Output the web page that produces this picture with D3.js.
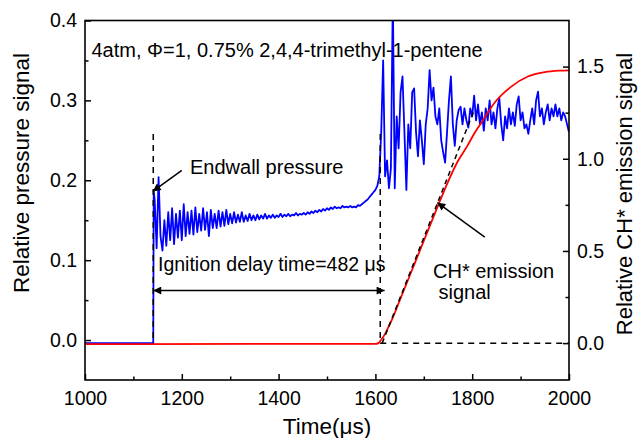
<!DOCTYPE html>
<html><head><meta charset="utf-8">
<script src="https://cdn.jsdelivr.net/npm/d3@7"></script>
<style>
body{margin:0;background:#fff}
text{font-family:"Liberation Sans",Arial,sans-serif;fill:#000}
</style>
</head><body>
<svg id="chart" width="638" height="438"></svg>
<script>
// ---------- data ----------
const xTicks = [1000, 1200, 1400, 1600, 1800, 2000];
const xMinorTicks = [1100, 1300, 1500, 1700, 1900];
const leftTicks = [0.0, 0.1, 0.2, 0.3, 0.4];
const leftMinorTicks = [0.05, 0.15, 0.25, 0.35];
const rightTicks = [0.0, 0.5, 1.0, 1.5];
const rightMinorTicks = [0.25, 0.75, 1.25];

// pressure (left axis): baseline and the jump
const pressureBaseTime = [1000, 1141, 1142];
const pressureBaseValue = [-0.004, -0.004, 0.186];
// pressure after the jump, sampled every 4 us from 1144 to 2000
const pressureStart = 1144, pressureStep = 4;
const pressureValues = [
  0.175,0.115,0.204,0.13,0.112,0.15,0.118,0.16,0.125,0.165,
  0.12,0.158,0.128,0.162,0.125,0.17,0.13,0.16,0.133,0.162,
  0.132,0.166,0.135,0.158,0.137,0.165,0.138,0.16,0.13,0.163,
  0.14,0.158,0.14,0.162,0.142,0.16,0.143,0.163,0.145,0.158,
  0.146,0.16,0.147,0.157,0.148,0.16,0.148,0.156,0.149,0.158,
  0.15,0.156,0.15,0.157,0.151,0.156,0.152,0.158,0.152,0.156,
  0.153,0.157,0.153,0.156,0.154,0.158,0.154,0.157,0.155,0.158,
  0.155,0.157,0.156,0.159,0.156,0.158,0.157,0.159,0.157,0.16,
  0.158,0.161,0.159,0.162,0.16,0.163,0.161,0.164,0.162,0.165,
  0.163,0.166,0.164,0.167,0.165,0.166,0.165,0.168,0.166,0.167,
  0.166,0.168,0.166,0.167,0.166,0.169,0.168,0.17,0.172,0.174,
  0.176,0.179,0.182,0.185,0.188,0.193,0.205,0.26,0.35,0.205,
  0.225,0.19,0.215,0.43,0.19,0.28,0.24,0.31,0.33,0.26,
  0.188,0.27,0.24,0.31,0.315,0.26,0.23,0.275,0.25,0.22,
  0.27,0.29,0.338,0.30,0.316,0.28,0.27,0.29,0.25,0.235,
  0.222,0.26,0.30,0.33,0.27,0.243,0.275,0.288,0.292,0.27,
  0.29,0.275,0.266,0.29,0.28,0.306,0.275,0.295,0.27,0.285,
  0.262,0.29,0.275,0.3,0.27,0.285,0.265,0.29,0.303,0.27,
  0.25,0.28,0.265,0.29,0.27,0.285,0.268,0.295,0.305,0.275,
  0.285,0.265,0.27,0.258,0.275,0.29,0.27,0.3,0.311,0.28,
  0.29,0.27,0.285,0.295,0.275,0.29,0.28,0.295,0.28,0.29,
  0.275,0.285,0.28,0.27,0.26
];

// CH* emission (right axis)
const chTime  = [1000, 1600, 1606, 1612, 1620, 1627, 1634, 1650, 1670, 1690, 1710, 1730, 1750, 1770, 1790, 1805, 1820, 1845, 1880, 1915, 1950, 1980, 2000];
const chValue = [-0.005, -0.004, 0.0, 0.018, 0.05, 0.088, 0.126, 0.23, 0.36, 0.49, 0.62, 0.75, 0.875, 0.985, 1.07, 1.14, 1.2, 1.3, 1.39, 1.446, 1.47, 1.478, 1.48];

// annotation geometry in data units
const tangentTime = [1614, 1805];
const tangentValue = [0.0, 1.27];          // right axis
const onsetTimes = [1141, 1610];
const dashTopValue = 0.258;                // left axis
const dashBottomValue = -0.004;            // left axis
const endwallArrow = {from: [1200, 0.2125], to: [1140, 0.186]};     // left axis
const delayArrow = {from: [1141, 0.062], to: [1619, 0.062]};        // left axis
const chArrow = {from: [1826, 0.575], to: [1728, 0.762]};           // right axis

// ---------- layout ----------
const svg = d3.select("#chart");
const L = 85, R = 569, T = 20.5, B = 380;
const x = d3.scaleLinear().domain([1000, 2000]).range([L, R]);
const yL = d3.scaleLinear().domain([-0.05, 0.4]).range([B, T]);
const yR = d3.scaleLinear().domain([-0.2, 1.75]).range([B, T]);

svg.append("defs").append("clipPath").attr("id", "clip")
  .append("rect").attr("x", L).attr("y", T).attr("width", R - L).attr("height", B - T);
const mk = svg.select("defs").append("marker").attr("id", "arrow")
  .attr("viewBox", "0 0 10 10").attr("refX", 10).attr("refY", 5)
  .attr("markerUnits", "userSpaceOnUse").attr("markerWidth", 10).attr("markerHeight", 8)
  .attr("orient", "auto-start-reverse");
mk.append("path").attr("d", "M0,0 L10,5 L0,10 z").attr("fill", "#000");

// ---------- series ----------
const pressure = pressureBaseTime.map((t, i) => [t, pressureBaseValue[i]])
  .concat(pressureValues.map((v, i) => [pressureStart + i * pressureStep, v]));
const ch = chTime.map((t, i) => [t, chValue[i]]);

const plot = svg.append("g").attr("clip-path", "url(#clip)");
plot.append("path").datum(pressure)
  .attr("d", d3.line().x(d => x(d[0])).y(d => yL(d[1])))
  .attr("fill", "none").attr("stroke", "#0000ff").attr("stroke-width", 1.8).attr("stroke-linejoin", "round");
plot.append("path").datum(ch)
  .attr("d", d3.line().curve(d3.curveMonotoneX).x(d => x(d[0])).y(d => yR(d[1])))
  .attr("fill", "none").attr("stroke", "#ff0000").attr("stroke-width", 1.8);

// dashed guides
const dash = "6,5";
onsetTimes.forEach(t => {
  plot.append("line").attr("x1", x(t)).attr("x2", x(t))
    .attr("y1", yL(dashTopValue)).attr("y2", yL(dashBottomValue))
    .attr("stroke", "#000").attr("stroke-width", 1.5).attr("stroke-dasharray", dash);
});
plot.append("line").attr("x1", x(onsetTimes[1])).attr("x2", x(2000))
  .attr("y1", yR(0)).attr("y2", yR(0))
  .attr("stroke", "#000").attr("stroke-width", 1.5).attr("stroke-dasharray", dash);
plot.append("line").attr("x1", x(tangentTime[0])).attr("x2", x(tangentTime[1]))
  .attr("y1", yR(tangentValue[0])).attr("y2", yR(tangentValue[1]))
  .attr("stroke", "#000").attr("stroke-width", 1.5).attr("stroke-dasharray", "5,4");

// arrows
function arrow(a, ys, both) {
  const l = svg.append("line")
    .attr("x1", x(a.from[0])).attr("y1", ys(a.from[1]))
    .attr("x2", x(a.to[0])).attr("y2", ys(a.to[1]))
    .attr("stroke", "#000").attr("stroke-width", 1.5)
    .attr("marker-end", "url(#arrow)");
  if (both) l.attr("marker-start", "url(#arrow)");
}
arrow(endwallArrow, yL, false);
arrow(delayArrow, yL, true);
arrow(chArrow, yR, false);

// ---------- axes ----------
const tickFont = "19.5px";
function styleAxis(g) {
  g.select(".domain").remove();
  g.selectAll("line").attr("stroke", "#000").attr("stroke-width", 1.5);
  g.selectAll("text").style("font-size", tickFont).style("font-family", '"Liberation Sans", Arial, sans-serif').attr("fill", "#000");
}
svg.append("g").attr("transform", `translate(0,${B})`)
  .call(d3.axisBottom(x).tickValues(xTicks).tickFormat(d3.format("d")).tickSize(-6).tickPadding(11))
  .call(styleAxis);
svg.append("g").attr("transform", `translate(0,${B})`)
  .call(d3.axisBottom(x).tickValues(xMinorTicks).tickFormat("").tickSize(-3.5))
  .call(styleAxis);
svg.append("g").attr("transform", `translate(${L},0)`)
  .call(d3.axisLeft(yL).tickValues(leftTicks).tickFormat(d3.format(".1f")).tickSize(-6).tickPadding(8))
  .call(styleAxis);
svg.append("g").attr("transform", `translate(${L},0)`)
  .call(d3.axisLeft(yL).tickValues(leftMinorTicks).tickFormat("").tickSize(-3.5))
  .call(styleAxis);
svg.append("g").attr("transform", `translate(${R},0)`)
  .call(d3.axisRight(yR).tickValues(rightTicks).tickFormat(d3.format(".1f")).tickSize(-6).tickPadding(8))
  .call(styleAxis);
svg.append("g").attr("transform", `translate(${R},0)`)
  .call(d3.axisRight(yR).tickValues(rightMinorTicks).tickFormat("").tickSize(-3.5))
  .call(styleAxis);

// frame
svg.append("rect").attr("x", L).attr("y", T).attr("width", R - L).attr("height", B - T)
  .attr("fill", "none").attr("stroke", "#000").attr("stroke-width", 1.6);

// ---------- titles ----------
svg.append("text").attr("x", (L + R) / 2).attr("y", 434).attr("text-anchor", "middle")
  .style("font-size", "22.5px").text("Time(μs)");
svg.append("text").attr("transform", "translate(29,173) rotate(-90)").attr("text-anchor", "middle")
  .style("font-size", "22.5px").text("Relative pressure signal");
svg.append("text").attr("transform", "translate(632,194) rotate(-90)").attr("text-anchor", "middle")
  .style("font-size", "22px").text("Relative CH* emission signal");

// ---------- annotation text ----------
const ann = svg.append("g").style("font-size", "20px");
ann.append("text").attr("x", 91.5).attr("y", 57).text("4atm, Φ=1, 0.75% 2,4,4-trimethyl-1-pentene");
ann.append("text").attr("x", 190).attr("y", 174).text("Endwall pressure");
ann.append("text").attr("x", 158).attr("y", 270.5).style("font-size", "19.5px").text("Ignition delay time=482 μs");
ann.append("text").attr("x", 433).attr("y", 278).text("CH* emission");
ann.append("text").attr("x", 438.5).attr("y", 299).text("signal");
</script>
</body></html>
